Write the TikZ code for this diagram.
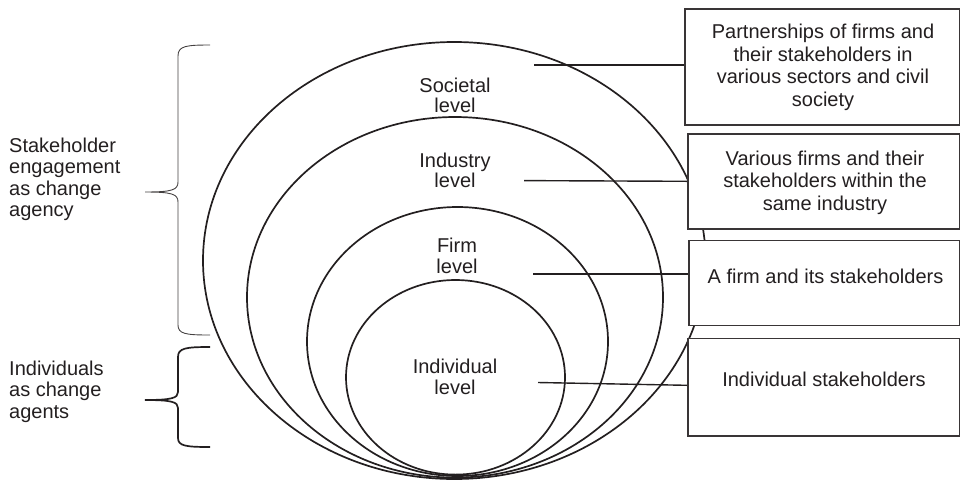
\documentclass[tikz,border=0pt]{standalone}
\usepackage{fontspec}
\setmainfont{Liberation Sans}
\definecolor{ink}{HTML}{231F20}
\begin{document}
\begin{tikzpicture}[x=1pt,y=-1pt,
  lvltext/.style={inner sep=0pt, text=ink, font=\fontsize{20}{20.5}\selectfont, align=center},
  sidelabel/.style={inner sep=0pt, text=ink, font=\fontsize{20}{21.5}\selectfont, align=left, anchor=west},
  boxtext/.style={inner sep=0pt, text=ink, font=\fontsize{20}{22.8}\selectfont, align=center},
  levelring/.style={draw=ink, line width=1.7pt},
  panel/.style={draw=ink!90, line width=1.6pt, fill=white, rectangle, inner sep=0pt, anchor=north west},
  link/.style={draw=ink, line width=1.4pt},
  bracethin/.style={draw=ink!85, line width=0.9pt},
  bracethick/.style={draw=ink, line width=1.7pt},
]
\useasboundingbox (0,0) rectangle (960,480);

% nested levels, all resting on a common bottom
\draw[levelring] (454.3,260.5) ellipse [x radius=251.3pt, y radius=218.5pt];
\draw[levelring] (455,297.3) ellipse [x radius=208pt, y radius=180.3pt];
\draw[levelring] (457.5,341.5) ellipse [x radius=150.5pt, y radius=134.5pt];
\draw[levelring] (455.5,377.3) ellipse [x radius=109.5pt, y radius=97.3pt];

% level names
\node[lvltext] (lsoc)   at (455,95.5)  {Societal\\level};
\node[lvltext] (lind)   at (455,170.5) {Industry\\level};
\node[lvltext] (lfirm)  at (457,255.7) {Firm\\level};
\node[lvltext] (lindiv) at (455,377)   {Individual\\level};

% connector start points
\coordinate (csoc)   at (534,65);
\coordinate (cind)   at (524,180.6);
\coordinate (cfirm)  at (533,274);
\coordinate (cindiv) at (538,382.5);

% description panels
\node[panel, minimum width=275pt, minimum height=116pt]  (box1) at (684,8) {};
\node[panel, minimum width=272pt, minimum height=95pt]   (box2) at (687,133) {};
\node[panel, minimum width=271pt, minimum height=85pt]   (box3) at (688,239.5) {};
\node[panel, minimum width=272pt, minimum height=97.5pt] (box4) at (687,337.5) {};

% connectors from each level to its panel
\draw[link] (csoc) -- (csoc -| box1.west);
\draw[link] (cind) -- (box2.west);
\draw[link] (cfirm) -- (cfirm -| box3.west);
\draw[link] (cindiv) -- ([yshift=1.75pt]box4.west);

% panel texts
\node[boxtext] (t1) at (823,67.3)  {Partnerships of firms and\\their stakeholders in\\various sectors and civil\\society};
\node[boxtext] (t2) at (825,182.7) {Various firms and their\\stakeholders within the\\same industry};
\node[boxtext] (t3) at (825.5,276) {A firm and its stakeholders};
\node[boxtext] (t4) at (824,379.4) {Individual stakeholders};

% braces on the left
\draw[bracethin] (210,45) .. controls (186,45) and (178,46) .. (178,56)
  -- (178,182) .. controls (178,190) and (172,192) .. (145,192)
  .. controls (172,192) and (178,194) .. (178,202)
  -- (178,325) .. controls (178,334) and (186,335) .. (210,335);
\draw[bracethick] (210,347) .. controls (186,347) and (178,348) .. (178,357)
  -- (178,392) .. controls (178,398) and (172,400) .. (145,400)
  .. controls (172,400) and (178,402) .. (178,408)
  -- (178,438) .. controls (178,446) and (186,447) .. (210,447);

\node[sidelabel] (agency) at (9,179.5) {Stakeholder\\engagement\\as change\\agency};
\node[sidelabel] (agents) at (9,391.5) {Individuals\\as change\\agents};
\end{tikzpicture}
\end{document}
